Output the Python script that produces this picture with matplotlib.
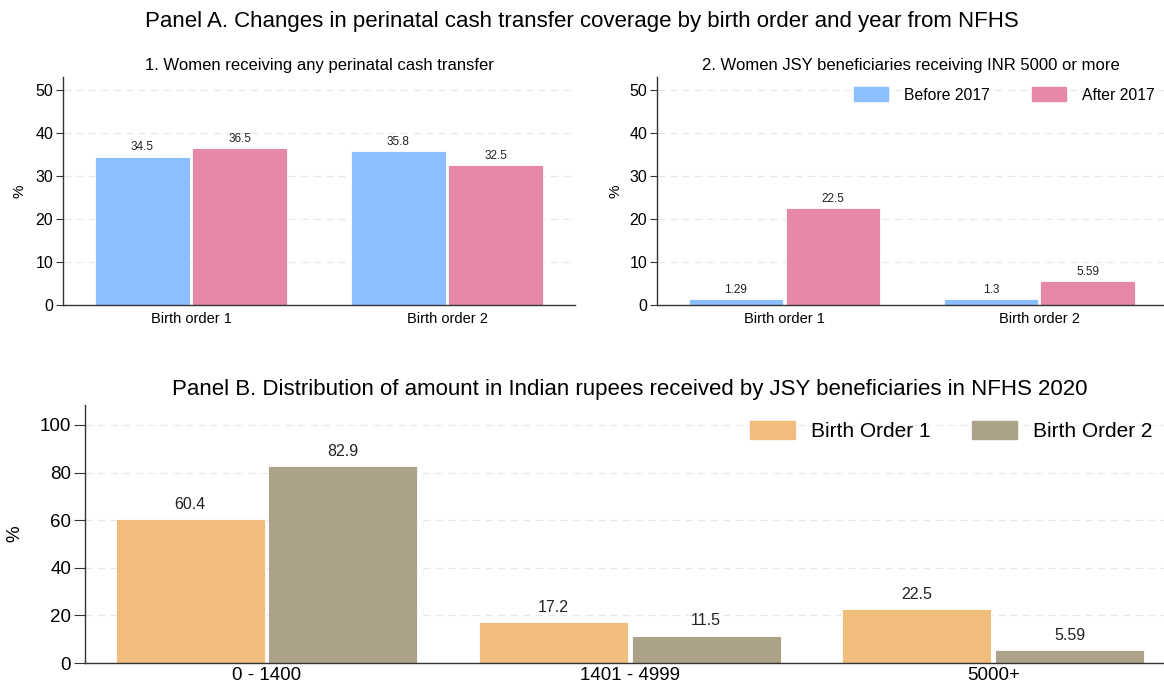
import numpy as np
import matplotlib
matplotlib.use("Agg")
import matplotlib.pyplot as plt
from matplotlib.patches import Patch

plt.rcParams['font.family'] = ['Liberation Sans', 'DejaVu Sans']

# Data
orders = ['Birth order 1', 'Birth order 2']
any_before = [34.5, 35.8]
any_after = [36.5, 32.5]
jsy_before = [1.29, 1.3]
jsy_after = [22.5, 5.59]
period_labels = ['Before 2017', 'After 2017']

amount_bins = ['0 - 1400', '1401 - 4999', '5000+']
bo1 = [60.4, 17.2, 22.5]
bo2 = [82.9, 11.5, 5.59]
bo_labels = ['Birth Order 1', 'Birth Order 2']

c_blue = '#8bbfff'
c_pink = '#e788a8'
c_orange = '#f0bd7c'
c_gray = '#aca189'

W, H = 1164, 692
fig = plt.figure(figsize=(W / 100, H / 100), dpi=100)


def px_axes(x0, y0, x1, y1):
    # pixel box (left, top, right, bottom) -> figure coords
    return fig.add_axes([x0 / W, 1 - y1 / H, (x1 - x0) / W, (y1 - y0) / H])


def style(ax, ticks, fs_y, fs_x, tlen):
    for s in ['top', 'right']:
        ax.spines[s].set_visible(False)
    for s in ['left', 'bottom']:
        ax.spines[s].set_color('#333333')
        ax.spines[s].set_linewidth(1.0)
    ax.set_yticks(ticks)
    ax.tick_params(axis='y', labelsize=fs_y, length=tlen, color='#333333', pad=2)
    ax.tick_params(axis='x', labelsize=fs_x, length=0, pad=5)
    for t in ticks[1:]:
        ax.axhline(t, color='#e8e8e8', lw=0.9, ls=(0, (6, 4)), zorder=0)


def grouped(ax, cats, a, b, ca, cb, width, fs_val, off):
    x = np.arange(len(cats))
    ra = ax.bar(x - width / 2 - 0.005, a, width, color=ca, edgecolor='white', lw=0.6, zorder=2)
    rb = ax.bar(x + width / 2 + 0.005, b, width, color=cb, edgecolor='white', lw=0.6, zorder=2)
    for rects, vals in [(ra, a), (rb, b)]:
        for r, v in zip(rects, vals):
            ax.text(r.get_x() + r.get_width() / 2, v + off, f'{v:g}',
                    ha='center', va='bottom', fontsize=fs_val, color='#222222')
    ax.set_xticks(x)
    ax.set_xticklabels(cats)


def ylab(x, ax, fs):
    b = ax.get_position()
    fig.text(x / W, b.y0 + b.height / 2, '%', rotation=90, ha='center', va='center', fontsize=fs)


# Panel A left
ax1 = px_axes(63, 77, 575, 305)
grouped(ax1, orders, any_before, any_after, c_blue, c_pink, 0.37, 8.5, 0.8)
ax1.set_xlim(-0.5, 1.5)
ax1.set_ylim(0, 53)
style(ax1, [0, 10, 20, 30, 40, 50], 11.5, 10.5, 5)
ylab(20, ax1, 11)
ax1.set_title('1. Women receiving any perinatal cash transfer', fontsize=12, pad=5)

# Panel A right
ax2 = px_axes(657, 77, 1164, 305)
grouped(ax2, orders, jsy_before, jsy_after, c_blue, c_pink, 0.37, 8.5, 0.8)
ax2.set_xlim(-0.5, 1.49)
ax2.set_ylim(0, 53)
style(ax2, [0, 10, 20, 30, 40, 50], 11.5, 10.5, 5)
ylab(615, ax2, 11)
ax2.set_title('2. Women JSY beneficiaries receiving INR 5000 or more', fontsize=12, pad=5)
ax2.legend(handles=[Patch(color=c_blue), Patch(color=c_pink)], labels=period_labels,
           loc='center left', bbox_to_anchor=(854 / W, 1 - 95 / H), bbox_transform=fig.transFigure,
           ncol=2, frameon=False, fontsize=11.3, handlelength=2.17, handleheight=0.96,
           columnspacing=2.7, handletextpad=1.0, borderpad=0, borderaxespad=0)

# Panel B
ax3 = px_axes(85, 405, 1164, 663)
grouped(ax3, amount_bins, bo1, bo2, c_orange, c_gray, 0.41, 11.5, 3.0)
ax3.set_xlim(-0.5, 2.47)
ax3.set_ylim(0, 108.4)
style(ax3, [0, 20, 40, 60, 80, 100], 13.5, 13.5, 8)
ax3.tick_params(axis='x', pad=3)
ylab(15, ax3, 13.5)
ax3.legend(handles=[Patch(color=c_orange), Patch(color=c_gray)], labels=bo_labels,
           loc='center left', bbox_to_anchor=(750 / W, 1 - 431 / H), bbox_transform=fig.transFigure,
           ncol=2, frameon=False, fontsize=15, handlelength=2.16, handleheight=0.96,
           columnspacing=2.0, handletextpad=0.77, borderpad=0, borderaxespad=0)

fig.text(582 / W, 1 - 22 / H, 'Panel A. Changes in perinatal cash transfer coverage by birth order and year from NFHS',
         ha='center', va='center', fontsize=16)
fig.text(630 / W, 1 - 390 / H, 'Panel B. Distribution of amount in Indian rupees received by JSY beneficiaries in NFHS 2020',
         ha='center', va='center', fontsize=16)

fig.savefig('out.png', dpi=100, facecolor='white')
